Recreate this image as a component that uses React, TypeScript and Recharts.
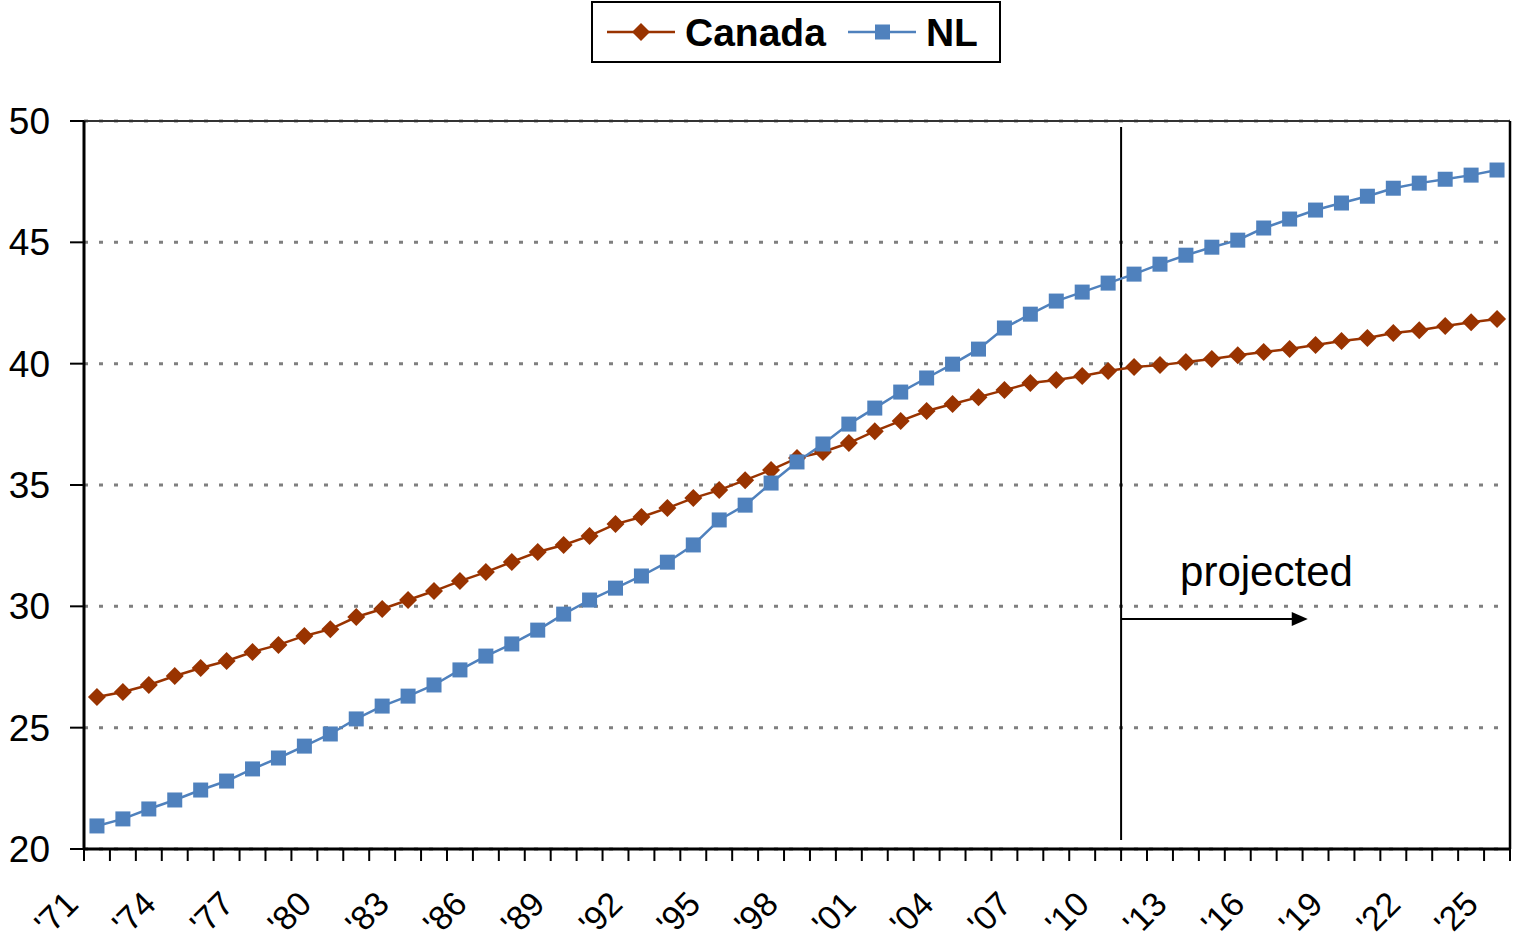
import React from "react";
import {
  LineChart,
  Line,
  XAxis,
  YAxis,
  CartesianGrid,
  Legend,
  ReferenceLine,
} from "recharts";

const FONT = "'Liberation Sans', Arial, sans-serif";
const CANADA_COLOR = "#993300";
const NL_COLOR = "#4F81BD";

const years = [
  1971, 1972, 1973, 1974, 1975, 1976, 1977, 1978, 1979, 1980,
  1981, 1982, 1983, 1984, 1985, 1986, 1987, 1988, 1989, 1990,
  1991, 1992, 1993, 1994, 1995, 1996, 1997, 1998, 1999, 2000,
  2001, 2002, 2003, 2004, 2005, 2006, 2007, 2008, 2009, 2010,
  2011, 2012, 2013, 2014, 2015, 2016, 2017, 2018, 2019, 2020,
  2021, 2022, 2023, 2024, 2025,
];

// median age, Canada
const canada = [
  26.26, 26.47, 26.76, 27.13, 27.46, 27.75, 28.12, 28.41, 28.78, 29.06,
  29.56, 29.89, 30.26, 30.63, 31.04, 31.41, 31.83, 32.24, 32.53, 32.9,
  33.39, 33.68, 34.05, 34.46, 34.79, 35.2, 35.62, 36.11, 36.36, 36.73,
  37.22, 37.64, 38.05, 38.34, 38.62, 38.91, 39.2, 39.33, 39.49, 39.7,
  39.86, 39.94, 40.07, 40.19, 40.35, 40.48, 40.6, 40.77, 40.93, 41.06,
  41.26, 41.38, 41.55, 41.71, 41.84,
];

// median age, Newfoundland and Labrador
const nl = [
  20.95, 21.24, 21.65, 22.02, 22.43, 22.8, 23.3, 23.75, 24.24, 24.74,
  25.36, 25.89, 26.3, 26.76, 27.38, 27.95, 28.45, 29.02, 29.68, 30.26,
  30.75, 31.25, 31.82, 32.53, 33.56, 34.17, 35.08, 35.95, 36.69, 37.51,
  38.17, 38.83, 39.41, 39.98, 40.6, 41.47, 42.04, 42.58, 42.95, 43.32,
  43.69, 44.1, 44.47, 44.8, 45.09, 45.59, 45.96, 46.33, 46.62, 46.9,
  47.23, 47.44, 47.6, 47.77, 47.98,
];

const tickLabels = [
  "'71", "'74", "'77", "'80", "'83", "'86", "'89", "'92", "'95", "'98",
  "'01", "'04", "'07", "'10", "'13", "'16", "'19", "'22", "'25",
];

const yTicks = [20, 25, 30, 35, 40, 45, 50];

// projection starts with 2011 (index 40)
const projectionStart = 40;
const arrowEnd = 47.2;
const arrowLevel = 29.48;
const projectedLabel = "projected";

// x is the slot index, point sits in the middle of its slot
const data = years.map((year, i) => ({
  pos: i + 0.5,
  year,
  canada: canada[i],
  nl: nl[i],
}));

const slotTicks = years.map((_, i) => i).concat(years.length);

const Diamond = (props: any) => {
  const { cx, cy, index } = props;
  if (cx == null || cy == null) return null;
  const r = 9;
  return (
    <polygon
      key={`c-${index}`}
      points={`${cx},${cy - r} ${cx + r},${cy} ${cx},${cy + r} ${cx - r},${cy}`}
      fill={CANADA_COLOR}
    />
  );
};

const Square = (props: any) => {
  const { cx, cy, index } = props;
  if (cx == null || cy == null) return null;
  const s = 15;
  return (
    <rect
      key={`n-${index}`}
      x={cx - s / 2}
      y={cy - s / 2}
      width={s}
      height={s}
      fill={NL_COLOR}
    />
  );
};

const XTick = (props: any) => {
  const { x, y, payload } = props;
  const i = payload.value;
  if (i % 3 !== 0 || i >= years.length) return null;
  const ax = x - 4;
  const ay = y + 45;
  return (
    <text
      x={ax}
      y={ay}
      textAnchor="end"
      fontSize={34}
      fontFamily={FONT}
      fill="#000"
      transform={`rotate(-45, ${ax}, ${ay})`}
    >
      {tickLabels[i / 3]}
    </text>
  );
};

const ProjectedArrow = (props: any) => {
  const { x1, y1, x2, y2 } = props;
  return (
    <g>
      <line x1={x1} y1={y1} x2={x2 - 14} y2={y2} stroke="#000" strokeWidth={2} />
      <polygon
        points={`${x2},${y2} ${x2 - 16},${y2 - 7} ${x2 - 16},${y2 + 7}`}
        fill="#000"
      />
      <text x={x1 + 59} y={y1 - 33} fontSize={42} fontFamily={FONT} fill="#000">
        {projectedLabel}
      </text>
    </g>
  );
};

const legendItems = [
  { name: "Canada", color: CANADA_COLOR, marker: "diamond" },
  { name: "NL", color: NL_COLOR, marker: "square" },
];

const LegendBox = () => (
  <div
    style={{
      boxSizing: "border-box",
      width: 410,
      height: 62,
      border: "2px solid #000",
      display: "flex",
      alignItems: "center",
      paddingLeft: 14,
      fontFamily: FONT,
      fontWeight: "bold",
      fontSize: 39,
      background: "#fff",
    }}
  >
    {legendItems.map((item) => (
      <div key={item.name} style={{ display: "flex", alignItems: "center", marginRight: 22 }}>
        <svg width={68} height={20}>
          <line x1={0} y1={10} x2={68} y2={10} stroke={item.color} strokeWidth={2.5} />
          {item.marker === "diamond" ? (
            <polygon points="34,1 43,10 34,19 25,10" fill={item.color} />
          ) : (
            <rect x={27} y={2.5} width={15} height={15} fill={item.color} />
          )}
        </svg>
        <span style={{ marginLeft: 10, lineHeight: 1 }}>{item.name}</span>
      </div>
    ))}
  </div>
);

export default function App() {
  return (
    <div style={{ position: "absolute", left: 0, top: 0, background: "#fff" }}>
      <LineChart
        width={1514}
        height={942}
        data={data}
        margin={{ top: 59, right: 4, bottom: 0, left: 0 }}
      >
        <CartesianGrid
          vertical={false}
          stroke="#7f7f7f"
          strokeWidth={3}
          strokeDasharray="4 11"
        />
        <XAxis
          dataKey="pos"
          type="number"
          domain={[0, years.length]}
          ticks={slotTicks}
          interval={0}
          height={93}
          tickSize={12}
          tickMargin={0}
          axisLine={{ stroke: "#000", strokeWidth: 3 }}
          tickLine={{ stroke: "#000", strokeWidth: 2 }}
          tick={<XTick />}
        />
        <YAxis
          domain={[20, 50]}
          ticks={yTicks}
          width={84}
          tickSize={14}
          tickMargin={20}
          axisLine={{ stroke: "#000", strokeWidth: 3 }}
          tickLine={{ stroke: "#000", strokeWidth: 2 }}
          tick={{ fill: "#000", fontSize: 37, fontFamily: FONT }}
        />
        <Legend
          verticalAlign="top"
          content={<LegendBox />}
          wrapperStyle={{ top: 1, left: 591, width: 410 }}
        />
        <ReferenceLine y={50} stroke="#333" strokeWidth={2} />
        <ReferenceLine x={years.length} stroke="#000" strokeWidth={2.5} />
        <ReferenceLine
          segment={[
            { x: projectionStart, y: 20.37 },
            { x: projectionStart, y: 49.75 },
          ]}
          stroke="#000"
          strokeWidth={2}
        />
        <ReferenceLine
          segment={[
            { x: projectionStart, y: arrowLevel },
            { x: arrowEnd, y: arrowLevel },
          ]}
          shape={<ProjectedArrow />}
        />
        <Line
          dataKey="canada"
          name="Canada"
          stroke={CANADA_COLOR}
          strokeWidth={2.5}
          dot={Diamond}
          isAnimationActive={false}
        />
        <Line
          dataKey="nl"
          name="NL"
          stroke={NL_COLOR}
          strokeWidth={2.5}
          dot={Square}
          isAnimationActive={false}
        />
      </LineChart>
    </div>
  );
}
